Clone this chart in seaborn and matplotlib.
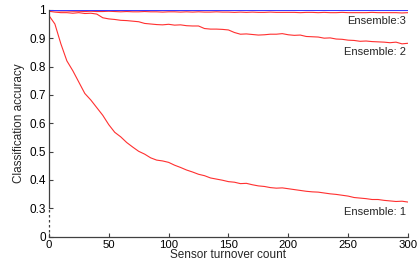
import numpy as np
import pandas as pd
import matplotlib
matplotlib.use("Agg")
import matplotlib.pyplot as plt
import seaborn as sns

# turnover count, sampled every 5
turnover = list(range(0, 301, 5))

ens1 = [0.980, 0.950, 0.880, 0.820, 0.785, 0.745, 0.705, 0.682, 0.655, 0.628,
        0.595, 0.568, 0.552, 0.532, 0.516, 0.501, 0.491, 0.478, 0.470, 0.467,
        0.462, 0.452, 0.444, 0.435, 0.428, 0.420, 0.415, 0.407, 0.403, 0.399,
        0.394, 0.392, 0.387, 0.388, 0.383, 0.379, 0.377, 0.373, 0.371, 0.372,
        0.369, 0.366, 0.363, 0.360, 0.358, 0.357, 0.354, 0.351, 0.349, 0.346,
        0.343, 0.338, 0.336, 0.334, 0.331, 0.331, 0.328, 0.326, 0.324, 0.325,
        0.322]

ens2 = [0.995, 0.992, 0.990, 0.990, 0.988, 0.990, 0.987, 0.988, 0.985, 0.972,
        0.968, 0.966, 0.963, 0.962, 0.960, 0.958, 0.952, 0.950, 0.948, 0.947,
        0.949, 0.946, 0.947, 0.944, 0.943, 0.943, 0.934, 0.932, 0.932, 0.931,
        0.929, 0.920, 0.914, 0.915, 0.913, 0.911, 0.912, 0.914, 0.914, 0.916,
        0.912, 0.910, 0.911, 0.906, 0.905, 0.904, 0.900, 0.901, 0.897, 0.896,
        0.893, 0.892, 0.889, 0.890, 0.888, 0.887, 0.886, 0.884, 0.886, 0.880,
        0.882]

ens3 = [0.998, 0.997, 0.996, 0.996, 0.995, 0.995, 0.994, 0.995, 0.994, 0.994,
        0.995, 0.994, 0.993, 0.994, 0.993, 0.993, 0.994, 0.993, 0.993, 0.992,
        0.993, 0.993, 0.992, 0.993, 0.992, 0.993, 0.992, 0.992, 0.993, 0.992,
        0.992, 0.991, 0.992, 0.991, 0.992, 0.991, 0.991, 0.992, 0.991, 0.991,
        0.991, 0.991, 0.990, 0.991, 0.991, 0.990, 0.991, 0.990, 0.990, 0.991,
        0.990, 0.990, 0.990, 0.990, 0.991, 0.990, 0.990, 0.990, 0.990, 0.989,
        0.990]

ens4 = [1.000] * len(turnover)

labels = {"Ensemble:3": 0.962, "Ensemble: 2": 0.851, "Ensemble: 1": 0.287}

df = pd.DataFrame({
    "count": turnover * 4,
    "acc": ens1 + ens2 + ens3 + ens4,
    "run": ["e1"] * 61 + ["e2"] * 61 + ["e3"] * 61 + ["e4"] * 61,
})

sns.set_style("ticks")
plt.rcParams["font.family"] = ["Liberation Sans", "DejaVu Sans"]

fig = plt.figure(figsize=(4.18, 2.65), dpi=100)
ax = fig.add_axes([0.117, 0.107, 0.859, 0.857])

sns.lineplot(data=df, x="count", y="acc", hue="run",
             palette={"e1": "#ff3030", "e2": "#ff3030", "e3": "#ff3030", "e4": "#3a3aff"},
             linewidth=0.8, legend=False, ax=ax)

ax.set_xlim(0, 300)
ax.set_ylim(0.2, 1.001)
ax.set_xticks(range(0, 301, 50))
ax.set_yticks([0.2, 0.3, 0.4, 0.5, 0.6, 0.7, 0.8, 0.9, 1.0])
ax.set_yticklabels(["0", "0.3", "0.4", "0.5", "0.6", "0.7", "0.8", "0.9", "1"])
ax.tick_params(direction="in", length=3, width=0.8, labelsize=8.5, colors="#404040",
               labelcolor="black", pad=2)
ax.tick_params(axis="x", labelsize=8.2, pad=2.5)

for s in ["top", "right"]:
    ax.spines[s].set_visible(False)
ax.spines["left"].set_bounds(0.3, 1.0)
for s in ["left", "bottom"]:
    ax.spines[s].set_color("#404040")
    ax.spines[s].set_linewidth(0.9)
ax.plot([0, 0], [0.2, 0.3], ls=(0, (2, 2)), color="#404040", lw=0.9, clip_on=False)

ax.set_xlabel("Sensor turnover count", fontsize=8.5, labelpad=-0.5)
ax.set_ylabel("Classification accuracy", fontsize=8.5, labelpad=3)

for txt, yv in labels.items():
    ax.text(298, yv, txt, ha="right", va="center", fontsize=8)

fig.savefig("out.png", dpi=100)
